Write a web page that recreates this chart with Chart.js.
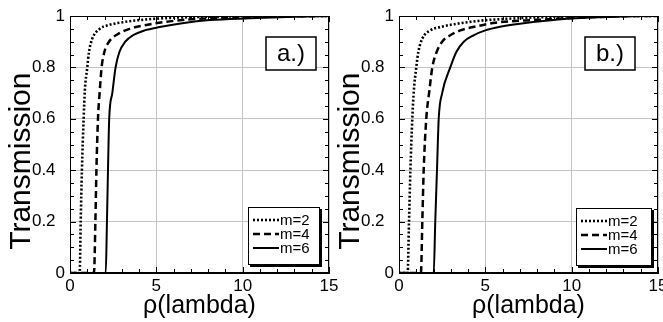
<!DOCTYPE html>
<html>
<head>
<meta charset="utf-8">
<script src="https://cdn.jsdelivr.net/npm/chart.js@4"></script>
<style>
html, body { margin: 0; padding: 0; background: #fff; }
#wrap { position: relative; width: 663px; height: 322px; overflow: hidden; background: #fff; }
#chartA { position: absolute; left: 0; top: 0; }
#chartB { position: absolute; left: 329px; top: 0; }
</style>
</head>
<body>
<div id="wrap">
    <canvas id="chartA" width="345" height="322"></canvas>
    <canvas id="chartB" width="334" height="322"></canvas>
</div>
<script>
// panel a.)
const rhoA2 = [0, 0.56, 0.62, 0.69, 0.79, 0.86, 1.0, 1.1, 1.28, 1.72, 2.2, 3.17, 4.5, 6, 8, 10, 15];
const transA2 = [0, 0, 0.2, 0.4, 0.6, 0.71, 0.8, 0.86, 0.91, 0.95, 0.964, 0.977, 0.987, 0.993, 0.997, 0.999, 1.0];
const rhoA4 = [0, 1.39, 1.47, 1.53, 1.62, 1.72, 1.83, 1.99, 2.26, 2.78, 3.45, 4.5, 5.48, 7, 9, 12, 15];
const transA4 = [0, 0, 0.2, 0.4, 0.6, 0.704, 0.8, 0.86, 0.9, 0.93, 0.95, 0.966, 0.977, 0.987, 0.993, 0.998, 1.0];
const rhoA6 = [0, 2.07, 2.14, 2.2, 2.27, 2.45, 2.64, 2.86, 3.2, 3.65, 4.32, 5.19, 6.5, 8.1, 10.4, 13, 15];
const transA6 = [0, 0, 0.2, 0.4, 0.6, 0.7, 0.8, 0.86, 0.9, 0.925, 0.944, 0.957, 0.972, 0.984, 0.991, 0.997, 1.0];

// panel b.)
const rhoB2 = [0, 0.5, 0.58, 0.66, 0.77, 0.86, 1.0, 1.12, 1.35, 1.81, 2.39, 3.36, 4.9, 6.5, 8, 11, 15];
const transB2 = [0, 0, 0.2, 0.4, 0.6, 0.71, 0.8, 0.86, 0.912, 0.944, 0.957, 0.97, 0.983, 0.99, 0.995, 0.999, 1.0];
const rhoB4 = [0, 1.27, 1.35, 1.43, 1.58, 1.76, 1.93, 2.18, 2.5, 2.97, 3.55, 4.5, 5.58, 8, 11, 14, 15];
const transB4 = [0, 0, 0.2, 0.4, 0.6, 0.71, 0.8, 0.86, 0.9, 0.925, 0.944, 0.96, 0.974, 0.985, 0.995, 1.0, 1.0];
const rhoB6 = [0, 2.01, 2.1, 2.2, 2.3, 2.5, 2.97, 3.32, 3.75, 4.32, 5.0, 5.85, 7.0, 9.9, 12, 14.3, 15];
const transB6 = [0, 0, 0.2, 0.4, 0.6, 0.7, 0.8, 0.86, 0.9, 0.925, 0.944, 0.958, 0.97, 0.99, 0.996, 1.0, 1.0];

const seriesLabels = ["m=2", "m=4", "m=6"];
const xTicks = [0, 5, 10, 15];
const yTicks = [0, 0.2, 0.4, 0.6, 0.8, 1];

const FONT = "'Liberation Sans', Arial, sans-serif";

function points(xs, ys) {
    return xs.map((x, i) => ({x: x, y: ys[i]}));
}

// inward ticks (major + minor) on all four sides, plus the frame
const frameTicks = {
    id: 'frameTicks',
    afterDatasetsDraw(chart) {
        const {ctx, chartArea: a, scales: {x, y}} = chart;
        ctx.save();
        ctx.strokeStyle = "#000";
        ctx.lineWidth = 1;
        ctx.beginPath();
        for (let v = 0; v <= 15; v += 1) {
            let px = Math.round(x.getPixelForValue(v)) + 0.5;
            let len = v % 5 === 0 ? 6 : 4;
            ctx.moveTo(px, a.bottom); ctx.lineTo(px, a.bottom - len);
            ctx.moveTo(px, a.top); ctx.lineTo(px, a.top + len);
        }
        for (let i = 0; i <= 20; i++) {
            let py = Math.round(y.getPixelForValue(i * 0.05)) + 0.5;
            let len = i % 4 === 0 ? 6 : 4;
            ctx.moveTo(a.left, py); ctx.lineTo(a.left + len, py);
            ctx.moveTo(a.right, py); ctx.lineTo(a.right - len, py);
        }
        ctx.stroke();
        ctx.strokeRect(Math.round(a.left) + 0.5, Math.round(a.top) + 0.5,
            Math.round(a.right - a.left) - 1, Math.round(a.bottom - a.top) - 1);
        ctx.restore();
    }
};

// boxed legend with shadow, and the panel tag box
const boxLegend = {
    id: 'boxLegend',
    afterDraw(chart, args, opts) {
        const {ctx, chartArea: a} = chart;
        ctx.save();
        let bx = a.left + opts.left, by = a.top + opts.top;
        ctx.fillStyle = "#000";
        ctx.fillRect(bx + 2, by + 2, opts.width, opts.height);
        ctx.fillStyle = "#fff";
        ctx.fillRect(bx, by, opts.width, opts.height);
        ctx.strokeStyle = "#000";
        ctx.lineWidth = 1;
        ctx.strokeRect(bx + 0.5, by + 0.5, opts.width - 1, opts.height - 1);
        ctx.font = "15px " + FONT;
        ctx.textBaseline = "middle";
        ctx.textAlign = "left";
        chart.data.datasets.forEach((ds, i) => {
            let ry = by + 13 + i * 14;
            ctx.beginPath();
            ctx.setLineDash(ds.borderDash || []);
            ctx.lineWidth = ds.borderWidth;
            ctx.moveTo(bx + 5, ry);
            ctx.lineTo(bx + 31, ry);
            ctx.stroke();
            ctx.setLineDash([]);
            ctx.fillStyle = "#000";
            ctx.fillText(ds.label, bx + 32, ry + 1);
        });
        let t = opts.tag;
        let tx = a.left + t.left, ty = a.top + t.top;
        ctx.fillStyle = "#fff";
        ctx.fillRect(tx, ty, t.width, t.height);
        ctx.lineWidth = 1.5;
        ctx.strokeRect(tx, ty, t.width, t.height);
        ctx.fillStyle = "#000";
        ctx.font = "24px " + FONT;
        ctx.textAlign = "center";
        ctx.fillText(t.text, tx + t.width / 2, ty + t.height / 2 + 1);
        ctx.restore();
    }
};

function makeChart(id, rhos, trans, rightPad, legendPos, tag) {
    const dashes = [[2, 2], [7, 4], []];
    const widths = [2.6, 2.5, 2];
    return new Chart(document.getElementById(id).getContext('2d'), {
        type: 'scatter',
        data: {
            datasets: seriesLabels.map((label, i) => ({
                label: label,
                data: points(rhos[i], trans[i]),
                showLine: true,
                fill: false,
                borderColor: "#000",
                borderWidth: widths[i],
                borderDash: dashes[i],
                pointRadius: 0,
                cubicInterpolationMode: 'monotone'
            }))
        },
        options: {
            animation: false,
            responsive: false,
            devicePixelRatio: 1,
            layout: {padding: {top: 16, right: rightPad, left: 0, bottom: 0}},
            scales: {
                x: {
                    type: 'linear',
                    min: 0,
                    max: 15,
                    afterBuildTicks: (s) => { s.ticks = xTicks.map(v => ({value: v})); },
                    afterFit: (s) => { s.height = 49; s.paddingLeft = 0; s.paddingRight = 0; },
                    ticks: {
                        color: "#000",
                        font: {family: FONT, size: 17},
                        padding: 3,
                        maxRotation: 0
                    },
                    grid: {color: "#c4c4c4", lineWidth: 1, drawTicks: false},
                    border: {color: "#000", width: 1},
                    title: {
                        display: true,
                        text: "ρ(lambda)",
                        color: "#000",
                        font: {family: FONT, size: 25},
                        padding: {top: 0, bottom: 1}
                    }
                },
                y: {
                    min: 0,
                    max: 1,
                    afterBuildTicks: (s) => { s.ticks = yTicks.map(v => ({value: v})); },
                    afterFit: (s) => { s.width = 70; s.paddingTop = 0; s.paddingBottom = 0; },
                    ticks: {
                        color: "#000",
                        font: {family: FONT, size: 17},
                        padding: 5,
                        callback: (v) => (v === 0 || v === 1) ? String(v) : v.toFixed(1) + "  "
                    },
                    grid: {color: "#c4c4c4", lineWidth: 1, drawTicks: false},
                    border: {color: "#000", width: 1},
                    title: {
                        display: true,
                        text: "Transmission    ",
                        color: "#000",
                        font: {family: FONT, size: 30},
                        padding: {top: 4, bottom: 0}
                    }
                }
            },
            plugins: {
                legend: {display: false},
                tooltip: {enabled: false},
                boxLegend: Object.assign({}, legendPos, {tag: tag})
            }
        },
        plugins: [frameTicks, boxLegend]
    });
}

makeChart("chartA", [rhoA2, rhoA4, rhoA6], [transA2, transA4, transA6], 16,
    {left: 178, top: 191, width: 72, height: 58},
    {left: 196, top: 21, width: 50, height: 33, text: "a.)"});

makeChart("chartB", [rhoB2, rhoB4, rhoB6], [transB2, transB4, transB6], 5,
    {left: 177, top: 192, width: 76, height: 58},
    {left: 186, top: 21, width: 50, height: 33, text: "b.)"});
</script>
</body>
</html>
